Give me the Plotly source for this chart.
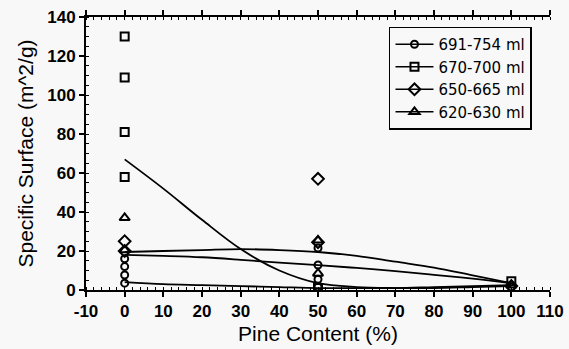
import plotly.graph_objects as go

# ---------------- data ----------------
series_names = ["691-754 ml", "670-700 ml", "650-665 ml", "620-630 ml"]
series_symbols = ["circle-open", "square-open", "diamond-open", "triangle-up-open"]
series_sizes = [7, 8, 9, 9]

circle_x = [0, 0, 0, 0, 50, 50, 50, 50, 100]
circle_y = [3.5, 7.7, 12, 16, 21.5, 12.8, 5.5, 1.5, 1.5]
square_x = [0, 0, 0, 0, 50, 100]
square_y = [130, 109, 81, 58, 1, 4.5]
diamond_x = [0, 0, 50, 50, 100]
diamond_y = [25, 20, 57, 24.5, 2]
triangle_x = [0, 0, 50, 50, 100]
triangle_y = [37, 20.5, 25.5, 8.5, 2.5]

fit_x = [0, 10, 20, 30, 40, 50, 60, 70, 80, 90, 100]
fit_circle = [4, 3, 2.5, 2, 1.5, 1, 1, 1, 1.5, 2, 2.5]
fit_square = [67, 52, 36, 21, 10, 3.5, 1.5, 1, 1, 1.5, 2]
fit_diamond = [19.5, 20, 20.5, 21, 20.5, 19.5, 17.5, 14.5, 11.5, 7.5, 3.5]
fit_triangle = [18, 17.5, 16.8, 15.5, 14, 12.8, 11.3, 9.7, 7.8, 5.8, 3.5]

x_tick_values = [-10, 0, 10, 20, 30, 40, 50, 60, 70, 80, 90, 100, 110]
x_tick_labels = ["-10", "0", "10", "20", "30", "40", "50", "60", "70", "80", "90", "100", "110"]
y_tick_values = [0, 20, 40, 60, 80, 100, 120, 140]
y_tick_labels = ["0", "20", "40", "60", "80", "100", "120", "140"]

x_range = [-10, 110]
y_range = [0, 140]

points = [(circle_x, circle_y), (square_x, square_y), (diamond_x, diamond_y), (triangle_x, triangle_y)]
fits = [fit_circle, fit_square, fit_diamond, fit_triangle]

# ---------------- figure ----------------
BG = "#f8f8f8"
FONT = "Liberation Sans, Arial, sans-serif"
fig = go.Figure()

for f in fits:
    fig.add_trace(go.Scatter(x=fit_x, y=f, mode="lines", line=dict(color="black", width=1.8, shape="spline", smoothing=1),
                             showlegend=False, hoverinfo="skip"))

for (px, py), sym, sz in zip(points, series_symbols, series_sizes):
    fig.add_trace(go.Scatter(x=px, y=py, mode="markers", showlegend=False,
                             marker=dict(symbol=sym, size=sz, color="black", line=dict(color="black", width=2))))

for name, sym, sz in zip(series_names, series_symbols, series_sizes):
    fig.add_trace(go.Scatter(x=[None], y=[None], mode="lines+markers", name=name,
                             line=dict(color="black", width=1.5),
                             marker=dict(symbol=sym, size=sz, color="black", line=dict(color="black", width=2))))

axis_common = dict(showgrid=False, zeroline=False, automargin=False)
fig.update_layout(
    width=569, height=349,
    margin=dict(l=86, r=19, t=17, b=59),
    paper_bgcolor=BG, plot_bgcolor=BG,
    font=dict(family=FONT, color="black"),
    xaxis=dict(range=x_range, tickmode="array", tickvals=x_tick_values,
               ticktext=["<b>%s</b>" % t for t in x_tick_labels],
               showline=True, linewidth=2, linecolor="black",
               ticks="outside", ticklen=5, tickwidth=1.5, tickcolor="black", mirror="ticks",
               minor=dict(ticks="inside", tickmode="linear", tick0=0, dtick=2, ticklen=3, tickwidth=1, tickcolor="black"),
               tickfont=dict(size=17),
               title=dict(text="Pine Content (%)", font=dict(size=21), standoff=6), **axis_common),
    xaxis2=dict(range=x_range, tick0=0, dtick=10, overlaying="x", anchor="y", side="bottom",
                ticks="inside", ticklen=5, tickwidth=1.5, tickcolor="black", mirror="ticks",
                showticklabels=False, showline=False, **axis_common),
    yaxis=dict(range=y_range, tickmode="array", tickvals=y_tick_values,
               ticktext=["<b>%s</b>" % t for t in y_tick_labels],
               showline=True, linewidth=2, linecolor="black",
               ticks="outside", ticklen=5, tickwidth=1.5, tickcolor="black",
               minor=dict(ticks="inside", tickmode="linear", tick0=0, dtick=5, ticklen=3, tickwidth=1, tickcolor="black"),
               tickfont=dict(size=17),
               title=dict(text="Specific Surface (m^2/g)", font=dict(size=21), standoff=8), **axis_common),
    yaxis3=dict(range=y_range, dtick=20, overlaying="y", anchor="x", side="left",
                ticks="inside", ticklen=5, tickwidth=1.5, tickcolor="black",
                showticklabels=False, showline=False, **axis_common),
    yaxis2=dict(range=[0, 2.5], dtick=1, overlaying="y", anchor="x", side="right",
                showline=True, linewidth=2, linecolor="black",
                ticks="outside", ticklen=5, tickwidth=1.5, tickcolor="black",
                minor=dict(ticks="inside", dtick=0.25, ticklen=3, tickwidth=1, tickcolor="black"),
                showticklabels=False, **axis_common),
    yaxis4=dict(range=[0, 2.5], dtick=1, overlaying="y", anchor="x", side="right",
                ticks="inside", ticklen=5, tickwidth=1.5, tickcolor="black",
                showticklabels=False, showline=False, **axis_common),
    legend=dict(x=0.653, y=0.965, xanchor="left", yanchor="top", bgcolor=BG,
                bordercolor="black", borderwidth=1.5, font=dict(size=15, family="DejaVu Sans"),
                tracegroupgap=0, itemwidth=38),
    showlegend=True,
)

fig.write_html("out.html")
